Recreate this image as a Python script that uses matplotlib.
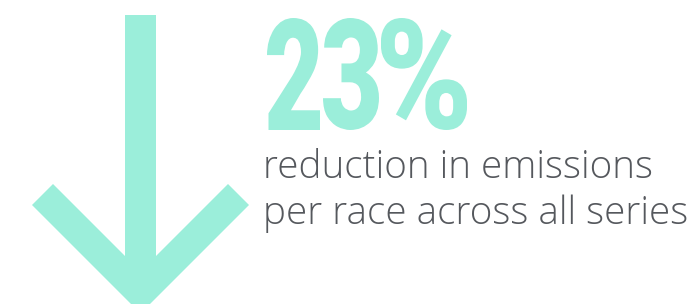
import matplotlib
matplotlib.use("Agg")
import matplotlib.pyplot as plt
from matplotlib.textpath import TextPath
from matplotlib.font_manager import FontProperties
from matplotlib.patches import PathPatch, Polygon
from matplotlib.transforms import Affine2D

# Data
value = 23
big_label = f"{value}%"
caption_lines = ["reduction in emissions", "per race across all series"]

MINT = "#9beeda"
GREY = "#55585d"

W, H = 697, 304
fig = plt.figure(figsize=(W / 100, H / 100), dpi=100)
ax = fig.add_axes([0, 0, 1, 1])
ax.set_xlim(0, W)
ax.set_ylim(H, 0)
ax.axis("off")

# Down arrow
cx, sw, top = 140.5, 31, 15
arm_outer, arm_inner = (32, 205), (53, 184)
shaft_bottom = arm_inner[1] + (cx - sw / 2 - arm_inner[0])
tip_y = arm_outer[1] + (cx - arm_outer[0])
pts = [
    (cx - sw / 2, top), (cx + sw / 2, top),
    (cx + sw / 2, shaft_bottom), (2 * cx - arm_inner[0], arm_inner[1]),
    (2 * cx - arm_outer[0], arm_outer[1]), (cx, tip_y),
    arm_outer, arm_inner, (cx - sw / 2, shaft_bottom),
]
ax.add_patch(Polygon(pts, closed=True, facecolor=MINT, edgecolor="none"))

# Big number: each glyph fitted into its box (condensed heavy look)
fp = FontProperties(family="Roboto", weight="black")
boxes = [(267, 320), (323, 379), (381, 467)]
y0, y1 = 18, 130
for ch, (xa, xb) in zip(big_label, boxes):
    tp = TextPath((0, 0), ch, size=100, prop=fp)
    ext = tp.get_extents()
    sx = (xb - xa) / ext.width
    sy = (y1 - y0) / ext.height
    tr = (Affine2D().translate(-ext.x0, -ext.y1).scale(sx, -sy).translate(xa, y0))
    path = tr.transform_path(tp)
    ax.add_patch(PathPatch(path, facecolor=MINT, edgecolor="none"))

# Caption
for line, base in zip(caption_lines, [178, 224]):
    ax.text(263, base, line, fontsize=27.8, family="Open Sans", weight="light",
            color=GREY, va="baseline", ha="left")

fig.savefig("out.png", dpi=100)
